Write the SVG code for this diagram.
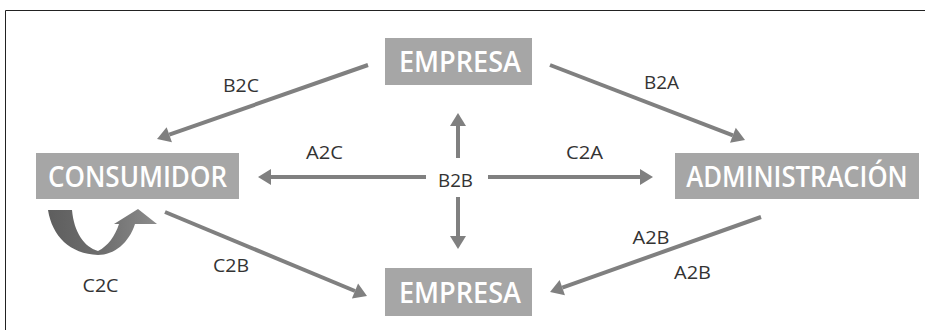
<svg xmlns="http://www.w3.org/2000/svg" width="925" height="330" viewBox="0 0 925 330">
<style>
.box{fill:#a6a6a6}
.bt{font-family:"Open Sans","Liberation Sans",sans-serif;font-weight:600;font-size:28.5px;fill:#ffffff;text-anchor:middle}
.lb{font-family:"Open Sans","Liberation Sans",sans-serif;font-size:18px;fill:#333333;text-anchor:middle}
.ar{stroke:#808080;stroke-width:4;fill:none;marker-end:url(#ah)}
</style>
<defs>
<marker id="ah" markerUnits="userSpaceOnUse" markerWidth="14" markerHeight="16" refX="0" refY="8" orient="auto" overflow="visible">
<path d="M0,0 L13,8 L0,16 Z" fill="#808080"/>
</marker>
<linearGradient id="cg" x1="0" y1="0" x2="1" y2="0">
<stop offset="0" stop-color="#5e5e5e"/>
<stop offset="0.5" stop-color="#6e6e6e"/>
<stop offset="1" stop-color="#8c8c8c"/>
</linearGradient>
</defs>
<rect width="925" height="330" fill="#ffffff"/>
<path d="M5.5,330 V10.5 H925" fill="none" stroke="#222222" stroke-width="1"/>

<g id="empresa-top"><rect class="box" x="385" y="38" width="147" height="47"/><text class="bt" x="460" y="72" textLength="122" lengthAdjust="spacingAndGlyphs">EMPRESA</text></g>
<g id="consumidor"><rect class="box" x="36" y="153" width="203" height="46"/><text class="bt" x="137.5" y="186.5" textLength="179" lengthAdjust="spacingAndGlyphs">CONSUMIDOR</text></g>
<g id="administracion"><rect class="box" x="675" y="153" width="244" height="46"/><text class="bt" transform="translate(797,186.5) scale(0.9,1)" x="0" y="0" textLength="246" lengthAdjust="spacingAndGlyphs">ADMINISTRACIÓN</text></g>
<g id="empresa-bottom"><rect class="box" x="385" y="268" width="147" height="48"/><text class="bt" x="460" y="302.5" textLength="122" lengthAdjust="spacingAndGlyphs">EMPRESA</text></g>
<g id="b2b"><text class="lb" x="455.5" y="186.5" textLength="35" lengthAdjust="spacingAndGlyphs">B2B</text></g>

<g id="connectors">
<line class="ar" x1="368" y1="65" x2="169.3" y2="134.7"/>
<line class="ar" x1="550" y1="65" x2="732.9" y2="135.3"/>
<line class="ar" x1="458" y1="158" x2="458" y2="126"/>
<line class="ar" x1="458" y1="197" x2="458" y2="236"/>
<line class="ar" x1="426" y1="177" x2="271" y2="177"/>
<line class="ar" x1="488" y1="177" x2="640" y2="177"/>
<line class="ar" x1="165" y1="212" x2="355" y2="291"/>
<line class="ar" x1="761" y1="217" x2="562.3" y2="287.6"/>
<path id="c2c-arrow" d="M48,210 L72,210 C74,232 84,247 98,251 C108,246 115,236 119,224 L114,224 L138,209 L157,224 L135,224 C129,243 114,255 98,255 C70,254 52,236 48,210 Z" fill="url(#cg)"/>
</g>

<g id="labels">
<text class="lb" x="241" y="91.5" textLength="36" lengthAdjust="spacingAndGlyphs">B2C</text>
<text class="lb" x="661.5" y="88.5" textLength="35" lengthAdjust="spacingAndGlyphs">B2A</text>
<text class="lb" x="324.5" y="158.5" textLength="37" lengthAdjust="spacingAndGlyphs">A2C</text>
<text class="lb" x="584.5" y="158.5" textLength="37" lengthAdjust="spacingAndGlyphs">C2A</text>
<text class="lb" x="651" y="243.5" textLength="37" lengthAdjust="spacingAndGlyphs">A2B</text>
<text class="lb" x="692.5" y="278.5" textLength="37" lengthAdjust="spacingAndGlyphs">A2B</text>
<text class="lb" x="231" y="271.5" textLength="36" lengthAdjust="spacingAndGlyphs">C2B</text>
<text class="lb" x="100.5" y="291.5" textLength="36" lengthAdjust="spacingAndGlyphs">C2C</text>
</g>
</svg>
